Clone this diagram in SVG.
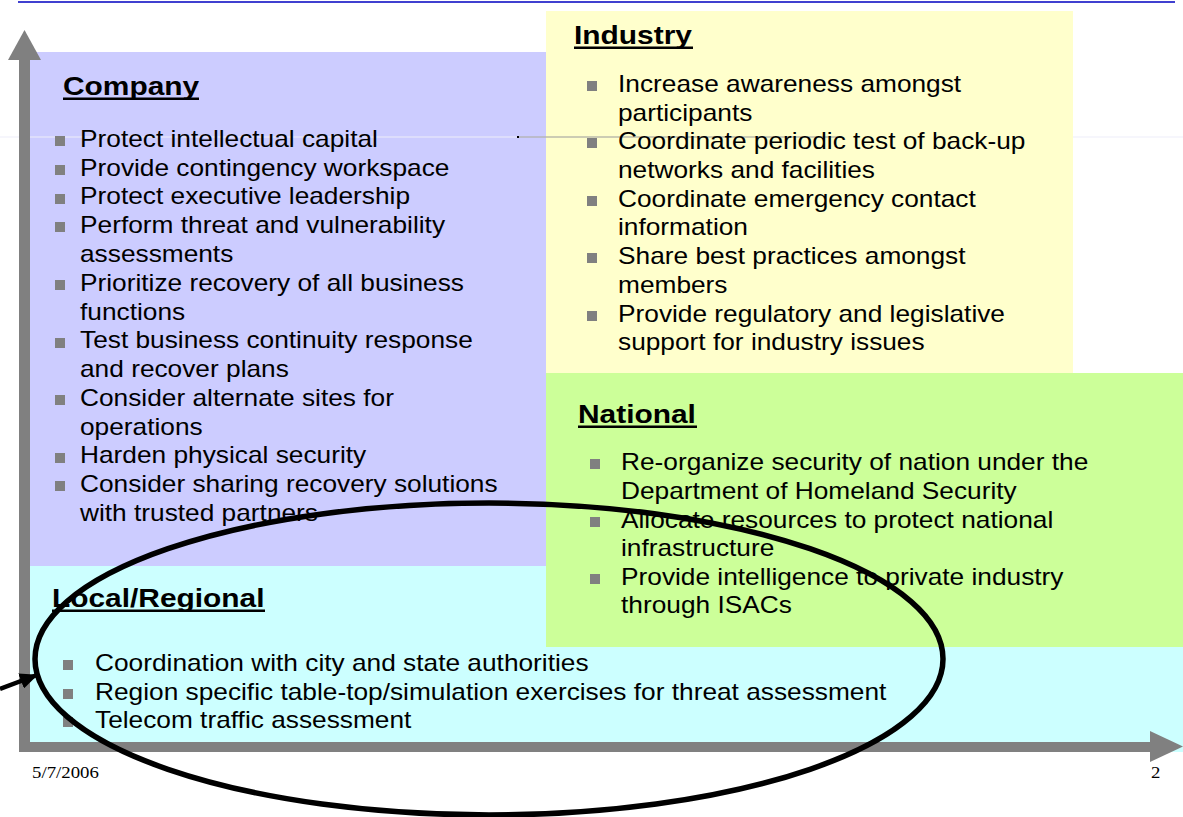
<svg xmlns="http://www.w3.org/2000/svg" width="1183" height="817" viewBox="0 0 1183 817">
<style>
.body{font-family:"Liberation Sans",Arial,sans-serif;font-size:24px;fill:#000}
.title{font-family:"Liberation Sans",Arial,sans-serif;font-size:26px;font-weight:bold;fill:#000}
.foot{font-family:"Liberation Serif","Times New Roman",serif;font-size:16.5px;fill:#000}
.bul{fill:#808080}
.ul{fill:#000}
.axis{fill:#808080}
</style>
<defs>
<marker id="ah" markerUnits="userSpaceOnUse" markerWidth="18" markerHeight="16" refX="17" refY="8" orient="auto">
<path d="M0,0 L18,8 L0,16 Z" fill="#000"/>
</marker>
</defs>
<rect x="0" y="0" width="1183" height="817" fill="#fff"/>
<rect x="18" y="1" width="1157" height="2" fill="#4040d0"/>

<g id="company-box"><rect x="30" y="52" width="516" height="514" fill="#ccccff"/></g>
<rect x="0" y="136.5" width="1183" height="1" fill="#eeeefa"/>
<g id="industry-box"><rect x="546" y="11" width="527" height="362" fill="#ffffcc"/></g>
<g id="local-box"><rect x="30" y="566" width="1153" height="186" fill="#ccffff"/></g>
<g id="national-box"><rect x="546" y="373" width="637" height="274" fill="#ccff99"/></g>
<rect x="518" y="136.5" width="322" height="1" fill="#999"/>
<rect x="517" y="136" width="2" height="2" fill="#000"/>

<g id="axes">
<rect class="axis" x="19" y="58" width="11" height="694"/>
<polygon class="axis" points="24.5,30 41,60 8,60"/>
<rect class="axis" x="19" y="742" width="1133" height="10"/>
<polygon class="axis" points="1150,731 1183,746.5 1150,762"/>
</g>

<g id="company">
<g transform="matrix(1.15 0 0 1 63 0)"><text class="title" x="0" y="95">Company</text></g>
<rect class="ul" x="63" y="97.5" width="136" height="2.5"/>
<rect class="bul" x="55" y="136" width="10" height="10"/>
<rect class="bul" x="55" y="165" width="10" height="10"/>
<rect class="bul" x="55" y="194" width="10" height="10"/>
<rect class="bul" x="55" y="222" width="10" height="10"/>
<rect class="bul" x="55" y="280" width="10" height="10"/>
<rect class="bul" x="55" y="338" width="10" height="10"/>
<rect class="bul" x="55" y="395" width="10" height="10"/>
<rect class="bul" x="55" y="453" width="10" height="10"/>
<rect class="bul" x="55" y="481" width="10" height="10"/>
<g transform="matrix(1.095 0 0 1 80 0)">
<text class="body" x="0" y="147">Protect intellectual capital</text>
<text class="body" x="0" y="176">Provide contingency workspace</text>
<text class="body" x="0" y="204.5">Protect executive leadership</text>
<text class="body" x="0" y="233.5">Perform threat and vulnerability</text>
<text class="body" x="0" y="262">assessments</text>
<text class="body" x="0" y="291">Prioritize recovery of all business</text>
<text class="body" x="0" y="320">functions</text>
<text class="body" x="0" y="348.5">Test business continuity response</text>
<text class="body" x="0" y="377.5">and recover plans</text>
<text class="body" x="0" y="406">Consider alternate sites for</text>
<text class="body" x="0" y="435">operations</text>
<text class="body" x="0" y="463.5">Harden physical security</text>
<text class="body" x="0" y="492.5">Consider sharing recovery solutions</text>
<text class="body" x="0" y="521">with trusted partners</text>
</g>
</g>

<g id="industry">
<g transform="matrix(1.15 0 0 1 574 0)"><text class="title" x="0" y="44">Industry</text></g>
<rect class="ul" x="574" y="46.5" width="119" height="2.5"/>
<rect class="bul" x="587" y="81" width="10" height="10"/>
<rect class="bul" x="587" y="138" width="10" height="10"/>
<rect class="bul" x="587" y="196" width="10" height="10"/>
<rect class="bul" x="587" y="253" width="10" height="10"/>
<rect class="bul" x="587" y="311" width="10" height="10"/>
<g transform="matrix(1.095 0 0 1 618 0)">
<text class="body" x="0" y="92">Increase awareness amongst</text>
<text class="body" x="0" y="121">participants</text>
<text class="body" x="0" y="149.5">Coordinate periodic test of back-up</text>
<text class="body" x="0" y="178">networks and facilities</text>
<text class="body" x="0" y="207">Coordinate emergency contact</text>
<text class="body" x="0" y="235.5">information</text>
<text class="body" x="0" y="264.5">Share best practices amongst</text>
<text class="body" x="0" y="293">members</text>
<text class="body" x="0" y="322">Provide regulatory and legislative</text>
<text class="body" x="0" y="350.5">support for industry issues</text>
</g>
</g>

<g id="national">
<g transform="matrix(1.15 0 0 1 578 0)"><text class="title" x="0" y="423">National</text></g>
<rect class="ul" x="578" y="425.5" width="119" height="2.5"/>
<rect class="bul" x="590" y="459" width="10" height="10"/>
<rect class="bul" x="590" y="517" width="10" height="10"/>
<rect class="bul" x="590" y="574" width="10" height="10"/>
<g transform="matrix(1.095 0 0 1 621 0)">
<text class="body" x="0" y="470">Re-organize security of nation under the</text>
<text class="body" x="0" y="499">Department of Homeland Security</text>
<text class="body" x="0" y="528">Allocate resources to protect national</text>
<text class="body" x="0" y="556">infrastructure</text>
<text class="body" x="0" y="585">Provide intelligence to private industry</text>
<text class="body" x="0" y="613">through ISACs</text>
</g>
</g>

<g id="local">
<g transform="matrix(1.15 0 0 1 52 0)"><text class="title" x="0" y="607">Local/Regional</text></g>
<rect class="ul" x="52" y="609.5" width="213" height="2.5"/>
<rect class="bul" x="63" y="660" width="10" height="10"/>
<rect class="bul" x="63" y="689" width="10" height="10"/>
<rect class="bul" x="63" y="717" width="10" height="10"/>
<g transform="matrix(1.095 0 0 1 95 0)">
<text class="body" x="0" y="671">Coordination with city and state authorities</text>
<text class="body" x="0" y="700">Region specific table-top/simulation exercises for threat assessment</text>
<text class="body" x="0" y="728">Telecom traffic assessment</text>
</g>
</g>

<g id="footer">
<g transform="matrix(1.14 0 0 1 32 0)"><text class="foot" x="0" y="778">5/7/2006</text></g>
<g transform="matrix(1.14 0 0 1 1151 0)"><text class="foot" x="0" y="778">2</text></g>
</g>

<g id="connectors">
<ellipse cx="489" cy="659" rx="454" ry="156" fill="none" stroke="#000" stroke-width="5.5"/>
<line x1="0" y1="689" x2="37" y2="675" stroke="#000" stroke-width="4.5" marker-end="url(#ah)"/>
</g>
</svg>
